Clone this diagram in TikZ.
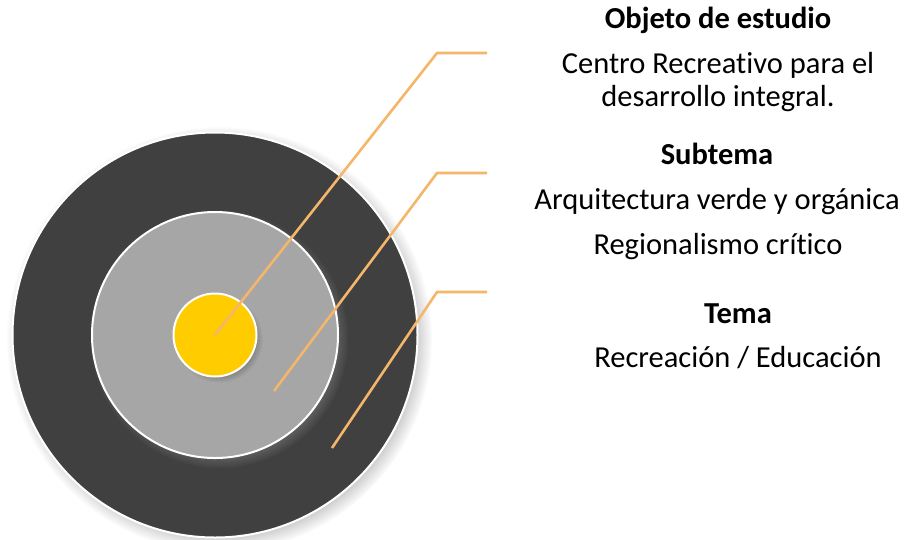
\documentclass[tikz,border=0pt]{standalone}
\usepackage{fontspec}
\setmainfont{Carlito}[Ligatures=NoCommon]
\usepackage{tikz}
\usetikzlibrary{shadows, calc}
\definecolor{ringdark}{HTML}{404040}
\definecolor{ringgray}{HTML}{A6A6A6}
\definecolor{coreyellow}{HTML}{FFCC00}
\definecolor{leaderorange}{HTML}{F4B66A}

\begin{document}
\begin{tikzpicture}[
    x=1pt, y=-1pt,
    every node/.style={font=\fontsize{30.5}{36}\selectfont},
    ring/.style={
        circle,
        draw=white,
        line width=2pt,
        inner sep=0pt,
        circular drop shadow={shadow xshift=4pt, shadow yshift=-4pt, shadow scale=1.05, opacity=0.75}
    },
    leader/.style={
        line width=2.6pt,
        draw=leaderorange
    },
    heading/.style={anchor=base, font=\fontsize{30.5}{36}\selectfont\bfseries},
    label/.style={anchor=base}
]
\useasboundingbox (0,0) rectangle (904,539);

% Rings
\node[ring, fill=ringdark, minimum size=405pt] (outer) at (215,335) {};
\node[ring, fill=ringgray, minimum size=246pt] (middle) at (215,335) {};
\node[ring, fill=coreyellow, minimum size=83pt] (core) at (215,335) {};

% Texts
\node[heading] (objeto) at (718,28) {Objeto de estudio};
\node[label] (objetoa) at (718,73) {Centro Recreativo para el};
\node[label] (objetob) at (718,106) {desarrollo integral.};

\node[heading] (subtema) at (717,164) {Subtema};
\node[label] (subtemaa) at (717,209) {Arquitectura verde y orgánica};
\node[label] (subtemab) at (718,254) {Regionalismo crítico};

\node[heading] (tema) at (738,323) {Tema};
\node[label] (temaa) at (738,367) {Recreación / Educación};

% Leader lines
\coordinate (startb) at (274,391);
\coordinate (startc) at (332,448);
\coordinate (benda) at (437,53);
\coordinate (bendb) at (437,173);
\coordinate (bendc) at (437,292);
\coordinate (enda) at (487,53);
\coordinate (endb) at (487,173);
\coordinate (endc) at (487,292);

\draw[leader] (core.center) -- (benda) -- (enda);
\draw[leader] (startb) -- (bendb) -- (endb);
\draw[leader] (startc) -- (bendc) -- (endc);

\end{tikzpicture}
\end{document}
